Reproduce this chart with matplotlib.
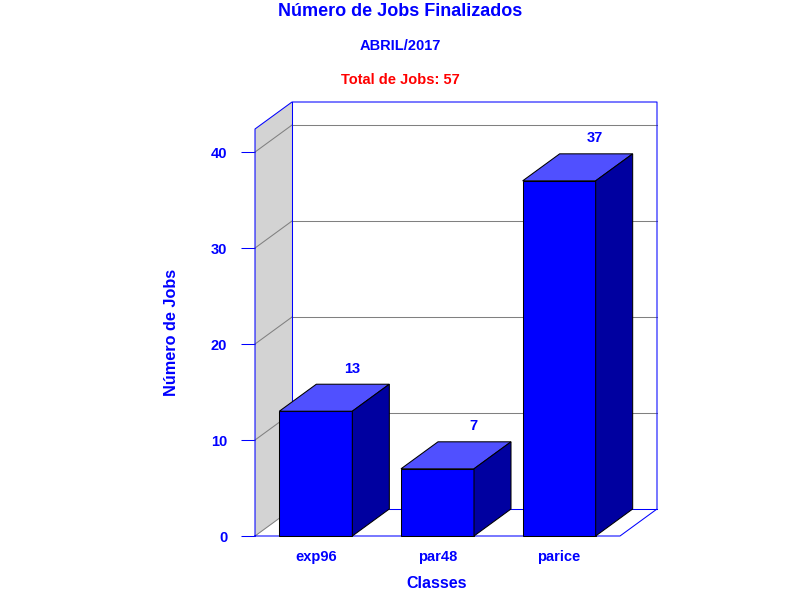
import matplotlib
matplotlib.use('Agg')
import matplotlib.pyplot as plt
from matplotlib.patches import Polygon

plt.rcParams['font.family'] = ['Liberation Sans', 'DejaVu Sans']
plt.rcParams['font.weight'] = 'bold'

classes = ['exp96', 'par48', 'parice']
jobs = [13, 7, 37]
yticks = [0, 10, 20, 30, 40]

BLUE = '#0000ff'
GRID = '#808080'
YMAX = 42.4
LW = 0.75
# 3d offset of the back wall, in data units
DX = 37 / 121.67
DY = 27 / 9.6
BAR_W = 0.6

fig = plt.figure(figsize=(8, 6), dpi=100)
ax = fig.add_axes([255 / 800, 64 / 600, 365 / 800, 407 / 600])
ax.set_xlim(-0.5, 2.5)
ax.set_ylim(0, YMAX)
ax.patch.set_visible(False)
for s in ax.spines.values():
    s.set_visible(False)

x0, x1 = ax.get_xlim()

# left wall, back wall, floor outline
ax.add_patch(Polygon([(x0, 0), (x0 + DX, DY), (x0 + DX, YMAX + DY), (x0, YMAX)],
                     fc='#d3d3d3', ec='none', clip_on=False, zorder=1))
for v in yticks:
    ax.plot([x0, x0 + DX], [v, v + DY], c=GRID, lw=LW, clip_on=False, zorder=2)
    if v > 0:
        ax.plot([x0 + DX, x1 + DX], [v + DY, v + DY], c=GRID, lw=LW, clip_on=False, zorder=2)
ax.plot([x0, x0, x0 + DX, x1 + DX, x1 + DX, x1, x0],
        [0, YMAX, YMAX + DY, YMAX + DY, DY, 0, 0], c=BLUE, lw=LW, clip_on=False, zorder=3)
ax.plot([x0 + DX, x0 + DX, x1 + DX], [YMAX + DY, DY, DY], c=BLUE, lw=LW, clip_on=False, zorder=3)

# bars
for i, v in enumerate(jobs):
    l, r = i - BAR_W / 2, i + BAR_W / 2
    ax.add_patch(Polygon([(l, 0), (r, 0), (r, v), (l, v)], fc=BLUE, ec='black', lw=LW,
                         clip_on=False, zorder=5))
    ax.add_patch(Polygon([(l, v), (r, v), (r + DX, v + DY), (l + DX, v + DY)], fc='#5050ff',
                         ec='black', lw=LW, clip_on=False, zorder=5))
    ax.add_patch(Polygon([(r, 0), (r + DX, DY), (r + DX, v + DY), (r, v)], fc='#0000a0',
                         ec='black', lw=LW, clip_on=False, zorder=5))
    ax.text(i + DX - 0.008, v + DY + 1.62, str(v), color=BLUE, fontsize=10.5, ha='center', va='center',
            zorder=6)

ax.set_yticks(yticks)
ax.tick_params(axis='y', length=10, width=LW, color=BLUE, labelcolor=BLUE, labelsize=10.5, pad=10)
ax.set_xticks(range(len(classes)))
ax.set_xticklabels(classes)
ax.tick_params(axis='x', length=0, labelcolor=BLUE, labelsize=10.5, pad=10)

fig.text(0.5, 1 - 11 / 600, 'Número de Jobs Finalizados', color=BLUE, fontsize=13, ha='center', va='center')
fig.text(0.5, 1 - 46 / 600, 'ABRIL/2017', color=BLUE, fontsize=10.5, ha='center', va='center')
fig.text(0.5, 1 - 80 / 600, 'Total de Jobs: 57', color='red', fontsize=10.5, ha='center', va='center')
fig.text(437 / 800, 1 - 584 / 600, 'Classes', color=BLUE, fontsize=11.5, ha='center', va='center')
fig.text(171 / 800, 1 - 332 / 600, 'Número de Jobs', color=BLUE, fontsize=11.7, rotation=90,
         ha='center', va='center')

fig.savefig('out.png', dpi=100)
